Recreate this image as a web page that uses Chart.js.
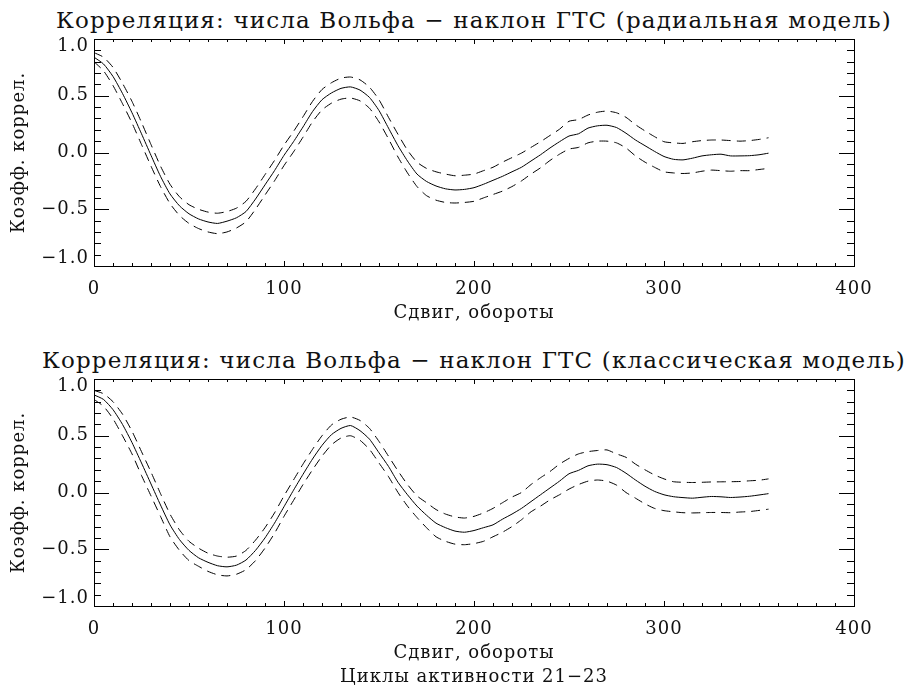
<!DOCTYPE html>
<html>
<head>
<meta charset="utf-8">
<script src="https://cdn.jsdelivr.net/npm/chart.js@4.4.1/dist/chart.umd.min.js"></script>
<style>
  html, body { margin: 0; padding: 0; background: #fff; overflow: hidden; }
  body { width: 909px; height: 687px; position: relative; }
  .title {
    position: absolute; left: 34px; width: 880px; text-align: center;
    font-family: 'DejaVu Serif', serif; font-size: 23px; line-height: 23px;
    letter-spacing: 1.15px; color: #111; white-space: nowrap;
  }
  .panel { position: absolute; left: 0; width: 909px; }
</style>
</head>
<body>
<div class="title" style="top: 9px;">Корреляция: числа Вольфа − наклон ГТС (радиальная модель)</div>
<div class="panel" style="top: 0; height: 340px;"><canvas id="radialChart"></canvas></div>
<div class="title" style="top: 349px;">Корреляция: числа Вольфа − наклон ГТС (классическая модель)</div>
<div class="panel" style="top: 340px; height: 349px;"><canvas id="classicChart"></canvas></div>
<script>
// Shift, rotations
const shifts = [
    0, 5, 10, 15, 20, 25, 30, 35, 40, 45, 50, 55,
    60, 65, 70, 75, 80, 85, 90, 95, 100, 105, 110, 115,
    120, 125, 130, 135, 140, 145, 150, 155, 160, 165, 170, 175,
    180, 185, 190, 195, 200, 205, 210, 215, 220, 225, 230, 235,
    240, 245, 250, 255, 260, 265, 270, 275, 280, 285, 290, 295,
    300, 305, 310, 315, 320, 325, 330, 335, 340, 345, 350, 355
];

// Radial model: correlation and its error bounds
const radialMid = [
    0.84, 0.78, 0.67, 0.52, 0.35, 0.165, -0.025, -0.21, -0.365, -0.47, -0.54, -0.585,
    -0.612, -0.625, -0.605, -0.575, -0.52, -0.41, -0.285, -0.16, -0.025, 0.095, 0.225, 0.36,
    0.465, 0.525, 0.565, 0.578, 0.55, 0.485, 0.37, 0.215, 0.06, -0.075, -0.19, -0.255,
    -0.295, -0.32, -0.33, -0.325, -0.31, -0.28, -0.245, -0.21, -0.17, -0.13, -0.075, -0.02,
    0.04, 0.095, 0.145, 0.165, 0.215, 0.235, 0.24, 0.22, 0.17, 0.11, 0.06, 0.01,
    -0.035, -0.06, -0.065, -0.05, -0.03, -0.02, -0.015, -0.03, -0.03, -0.028, -0.02, -0.006
];
const radialUpper = [
    0.88, 0.84, 0.75, 0.61, 0.45, 0.265, 0.07, -0.12, -0.28, -0.39, -0.46, -0.50,
    -0.525, -0.535, -0.52, -0.49, -0.43, -0.32, -0.195, -0.07, 0.065, 0.185, 0.315, 0.45,
    0.555, 0.615, 0.655, 0.665, 0.64, 0.575, 0.465, 0.31, 0.16, 0.02, -0.085, -0.14,
    -0.17, -0.19, -0.205, -0.20, -0.19, -0.16, -0.13, -0.085, -0.045, -0.005, 0.045, 0.095,
    0.15, 0.205, 0.275, 0.29, 0.33, 0.355, 0.365, 0.35, 0.31, 0.245, 0.19, 0.14,
    0.095, 0.085, 0.08, 0.095, 0.105, 0.11, 0.11, 0.105, 0.10, 0.105, 0.115, 0.13
];
const radialLower = [
    0.80, 0.72, 0.59, 0.43, 0.26, 0.07, -0.12, -0.30, -0.45, -0.555, -0.625, -0.67,
    -0.70, -0.715, -0.70, -0.665, -0.61, -0.50, -0.375, -0.25, -0.115, 0.005, 0.135, 0.27,
    0.375, 0.435, 0.47, 0.48, 0.455, 0.39, 0.27, 0.12, -0.04, -0.18, -0.30, -0.38,
    -0.42, -0.44, -0.445, -0.44, -0.43, -0.40, -0.37, -0.34, -0.30, -0.25, -0.19, -0.135,
    -0.07, -0.015, 0.03, 0.045, 0.085, 0.10, 0.10, 0.085, 0.04, -0.03, -0.085, -0.13,
    -0.17, -0.18, -0.185, -0.18, -0.165, -0.155, -0.16, -0.165, -0.16, -0.16, -0.15, -0.14
];

// Classical model
const classicMid = [
    0.86, 0.82, 0.73, 0.60, 0.44, 0.26, 0.075, -0.11, -0.285, -0.415, -0.51, -0.575,
    -0.615, -0.645, -0.655, -0.64, -0.595, -0.51, -0.40, -0.27, -0.125, 0.02, 0.16, 0.295,
    0.415, 0.51, 0.565, 0.59, 0.545, 0.47, 0.35, 0.23, 0.09, -0.02, -0.12, -0.20,
    -0.27, -0.31, -0.34, -0.35, -0.335, -0.31, -0.285, -0.235, -0.19, -0.14, -0.08, -0.02,
    0.04, 0.10, 0.165, 0.195, 0.235, 0.25, 0.245, 0.22, 0.17, 0.11, 0.055, 0.01,
    -0.02, -0.037, -0.045, -0.05, -0.042, -0.035, -0.038, -0.044, -0.04, -0.033, -0.022, -0.01
];
const classicUpper = [
    0.90, 0.87, 0.80, 0.69, 0.54, 0.36, 0.18, -0.01, -0.19, -0.33, -0.43, -0.49,
    -0.535, -0.56, -0.57, -0.56, -0.51, -0.42, -0.31, -0.18, -0.03, 0.11, 0.25, 0.38,
    0.50, 0.595, 0.645, 0.665, 0.635, 0.565, 0.45, 0.32, 0.19, 0.07, -0.03, -0.09,
    -0.15, -0.19, -0.215, -0.225, -0.21, -0.18, -0.14, -0.09, -0.04, 0.0, 0.07, 0.13,
    0.185, 0.25, 0.30, 0.34, 0.36, 0.37, 0.375, 0.34, 0.31, 0.25, 0.20, 0.155,
    0.12, 0.095, 0.09, 0.088, 0.09, 0.093, 0.094, 0.095, 0.097, 0.103, 0.108, 0.12
];
const classicLower = [
    0.82, 0.76, 0.65, 0.50, 0.34, 0.15, -0.03, -0.21, -0.39, -0.51, -0.60, -0.65,
    -0.695, -0.725, -0.735, -0.72, -0.68, -0.60, -0.49, -0.36, -0.21, -0.07, 0.07, 0.20,
    0.32, 0.42, 0.48, 0.50, 0.46, 0.38, 0.26, 0.14, 0.0, -0.12, -0.22, -0.31,
    -0.39, -0.43, -0.455, -0.46, -0.45, -0.43, -0.39, -0.35, -0.30, -0.24, -0.17, -0.12,
    -0.065, -0.02, 0.03, 0.07, 0.10, 0.11, 0.10, 0.065, 0.0, -0.05, -0.10, -0.14,
    -0.16, -0.17, -0.178, -0.18, -0.178, -0.176, -0.176, -0.178, -0.172, -0.168, -0.158, -0.147
];

// Axis ticks
const xTicks = [0, 100, 200, 300, 400];
const yTicks = [-1.0, -0.5, 0.0, 0.5, 1.0];
const xMinorStep = 10;
const yMinorStep = 0.1;

const FONT = 'DejaVu Serif';

// wider letter spacing, like the plot's original font
const spacing = {
    id: 'spacing',
    beforeLayout(chart) { chart.ctx.letterSpacing = '1px'; },
    beforeDraw(chart) {
        chart.ctx.letterSpacing = '1px';
        // end labels of the y axis sit inside the frame
        const items = chart.scales.y.getLabelItems();
        items.forEach(it => {
            if (it.label === '1.0') it.options.translation[1] += 7;
            if (it.label === '\u22121.0') it.options.translation[1] -= 8;
        });
    }
};

// IDL-like frame with inward ticks on all four sides
const frameTicks = {
    id: 'frameTicks',
    afterDraw(chart) {
        const { ctx, chartArea: a, scales: { x, y } } = chart;
        ctx.save();
        ctx.strokeStyle = '#000';
        ctx.lineWidth = 1;
        ctx.strokeRect(a.left + 0.5, a.top + 0.5, a.right - a.left, a.bottom - a.top);
        ctx.beginPath();
        const nx = Math.round((x.max - x.min) / xMinorStep);
        for (let i = 0; i <= nx; i++) {
            const v = x.min + i * xMinorStep;
            const px = Math.round(x.getPixelForValue(v)) + 0.5;
            const len = xTicks.includes(v) ? 5 : 3;
            ctx.moveTo(px, a.bottom);
            ctx.lineTo(px, a.bottom - len);
            ctx.moveTo(px, a.top);
            ctx.lineTo(px, a.top + len);
        }
        const ny = Math.round((y.max - y.min) / yMinorStep);
        for (let i = 0; i <= ny; i++) {
            const v = y.min + i * yMinorStep;
            const py = Math.round(y.getPixelForValue(v)) + 0.5;
            const len = (i % 5 === 0) ? 15 : 7;
            ctx.moveTo(a.left, py);
            ctx.lineTo(a.left + len, py);
            ctx.moveTo(a.right, py);
            ctx.lineTo(a.right - len, py);
        }
        ctx.stroke();
        ctx.restore();
    }
};

function toPoints(values) {
    return shifts.map((s, i) => ({ x: s, y: values[i] }));
}

function makeChart(canvasId, mid, upper, lower, xTitle, canvasHeight) {
    const ctx = document.getElementById(canvasId).getContext('2d');
    const lineStyle = { borderColor: '#000', borderWidth: 1, pointRadius: 0, tension: 0.2, fill: false };
    return new Chart(ctx, {
        type: 'line',
        data: {
            datasets: [
                { ...lineStyle, label: 'r', data: toPoints(mid) },
                { ...lineStyle, label: 'r+', data: toPoints(upper), borderDash: [9, 6] },
                { ...lineStyle, label: 'r-', data: toPoints(lower), borderDash: [9, 6] }
            ]
        },
        options: {
            responsive: true,
            maintainAspectRatio: false,
            animation: false,
            layout: { padding: { top: 39, right: 55, left: 0, bottom: 0 } },
            plugins: { legend: { display: false }, tooltip: { enabled: false } },
            scales: {
                x: {
                    type: 'linear',
                    min: 0,
                    max: 400,
                    afterBuildTicks: (scale) => { scale.ticks = xTicks.map(v => ({ value: v })); },
                    afterFit: (scale) => { scale.height = canvasHeight - 266; },
                    grid: { display: false, drawTicks: false },
                    border: { display: false },
                    ticks: {
                        padding: 13,
                        color: '#111',
                        maxRotation: 0,
                        font: { family: FONT, size: 18 },
                        callback: (v) => String(v)
                    },
                    title: {
                        display: true,
                        text: xTitle,
                        color: '#111',
                        font: { family: FONT, size: 18, lineHeight: 1.3333 },
                        padding: { top: 0, bottom: Array.isArray(xTitle) ? 0 : 15 }
                    }
                },
                y: {
                    min: -1,
                    max: 1,
                    afterBuildTicks: (scale) => { scale.ticks = yTicks.map(v => ({ value: v })); },
                    afterFit: (scale) => { scale.width = 94; },
                    grid: { display: false, drawTicks: false },
                    border: { display: false },
                    ticks: {
                        padding: 5,
                        color: '#111',
                        font: { family: FONT, size: 18 },
                        callback: (v) => v.toFixed(1).replace('-', '\u2212')
                    },
                    title: {
                        display: true,
                        text: 'Коэфф. коррел.',
                        color: '#111',
                        font: { family: FONT, size: 18 },
                        padding: { top: 9, bottom: 0 }
                    }
                }
            }
        },
        plugins: [spacing, frameTicks]
    });
}

document.addEventListener('DOMContentLoaded', () => {
    makeChart('radialChart', radialMid, radialUpper, radialLower, 'Сдвиг, обороты', 340);
    makeChart('classicChart', classicMid, classicUpper, classicLower,
        ['Сдвиг, обороты', 'Циклы активности 21\u221223'], 349);
});
</script>
</body>
</html>
